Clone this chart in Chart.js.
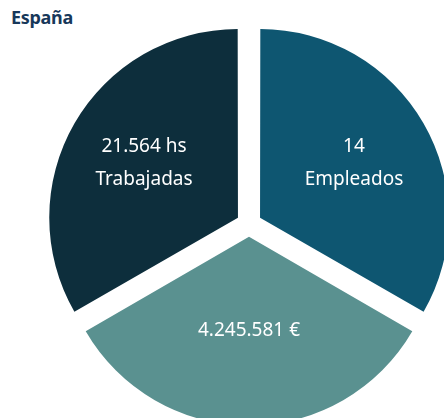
<!DOCTYPE html>
<html lang="es">
<head>
  <meta charset="UTF-8" />
  <title>España</title>
  <style>
    * { margin: 0; padding: 0; }
    html, body { width: 444px; height: 418px; overflow: hidden; background: #fff; }
    h2 {
      position: absolute; left: 11px; top: 5px;
      font-family: "Noto Sans", sans-serif; font-weight: bold; font-size: 18px;
      color: #17385a; letter-spacing: -0.3px;
    }
    .chartBox { position: absolute; left: 0; top: 0; width: 444px; height: 418px; }
  </style>
</head>
<body>
  <h2>España</h2>
  <div class="chartBox"><canvas id="myChart"></canvas></div>
  <script src="https://cdn.jsdelivr.net/npm/chart.js@4"></script>
  <script>
    // three equal slices, each labelled with its own figure
    const labels = ["Horas trabajadas", "Empleados", "Importe"];
    const values = [1, 1, 1];
    const sliceText = [["21.564 hs", "Trabajadas"], ["14", "Empleados"], ["4.245.581 €"]];
    const colors = ["#0d2e3c", "#0e5671", "#5a9190"];
    const labelDist = [0.58, 0.58, 0.5];

    // white text on each slice
    const sliceLabels = {
      id: "sliceLabels",
      afterDatasetsDraw(chart) {
        const ctx = chart.ctx;
        const arcs = chart.getDatasetMeta(0).data;
        ctx.save();
        ctx.fillStyle = "#fff";
        ctx.font = "19px 'Noto Sans', sans-serif";
        ctx.textAlign = "center";
        ctx.textBaseline = "middle";
        arcs.forEach((arc, i) => {
          const p = arc.getProps(["x", "y", "startAngle", "endAngle", "outerRadius"], true);
          const mid = (p.startAngle + p.endAngle) / 2;
          const off = arc.options.offset / 4; // arc shifts by offset/4
          const d = p.outerRadius * labelDist[i] + off;
          const cx = p.x + Math.cos(mid) * d;
          const cy = p.y + Math.sin(mid) * d;
          const lines = sliceText[i];
          const lh = 33;
          lines.forEach((t, j) => {
            ctx.fillText(t, cx, cy + (j - (lines.length - 1) / 2) * lh);
          });
        });
        ctx.restore();
      }
    };

    const ctx = document.getElementById("myChart").getContext("2d");
    const myChart = new Chart(ctx, {
      type: "pie",
      data: {
        labels: labels,
        datasets: [{
          data: values,
          backgroundColor: colors,
          borderWidth: 0,
          offset: 51,
          clip: false,
        }],
      },
      options: {
        responsive: true,
        maintainAspectRatio: false,
        animation: false,
        rotation: -120,
        radius: 187,
        layout: { padding: { left: 54, right: 0, top: 30, bottom: 0 } },
        plugins: {
          legend: { display: false },
          tooltip: { enabled: false },
        },
      },
      plugins: [sliceLabels],
    });
  </script>
</body>
</html>
